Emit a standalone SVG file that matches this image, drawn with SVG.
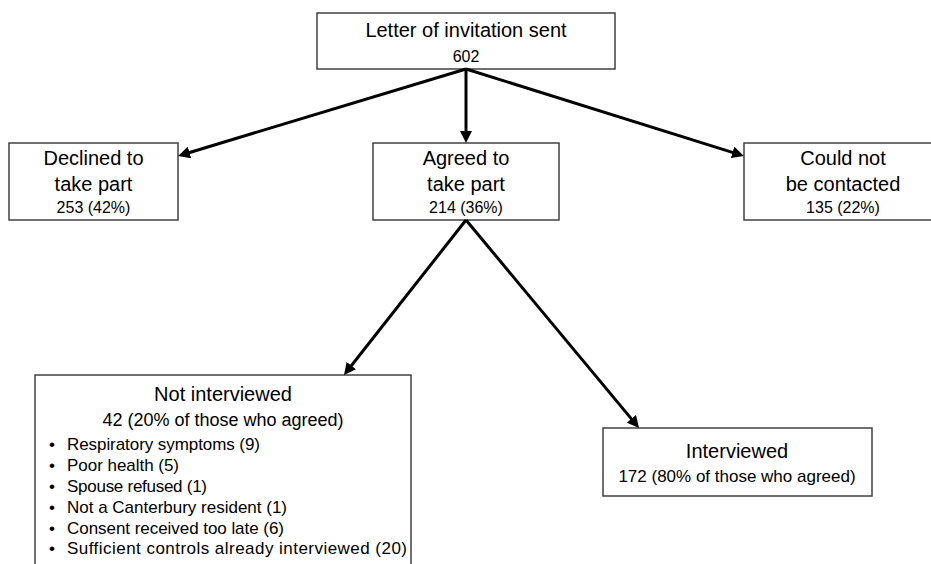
<svg xmlns="http://www.w3.org/2000/svg" width="931" height="564" viewBox="0 0 931 564">
<style>
.box{fill:#fff;stroke:#404040;stroke-width:1.5}
.t{font-family:"Liberation Sans",Arial,sans-serif;fill:#000}
.big{font-size:20px}
.mid{font-size:18px}
.mid2{font-size:17px}
.sm{font-size:16px}
.li{font-size:17px}
.c{text-anchor:middle}
.conn line{stroke:#000;stroke-width:3;fill:none;marker-end:url(#ah)}
</style>
<defs>
<marker id="ah" viewBox="0 0 10 10" refX="2" refY="5" markerWidth="4" markerHeight="4" orient="auto">
<path d="M0,0 L10,5 L0,10 z" fill="#000"/>
</marker>
</defs>
<rect width="931" height="564" fill="#fff"/>
<g id="letter">
<rect class="box" x="317" y="13" width="298" height="56"/>
<text class="t big c" x="466" y="37">Letter of invitation sent</text>
<text class="t sm c" x="466" y="62">602</text>
</g>
<g id="declined">
<rect class="box" x="9" y="143" width="169" height="77"/>
<text class="t big c" x="93.5" y="165">Declined to</text>
<text class="t big c" x="93.5" y="191">take part</text>
<text class="t sm c" x="93.5" y="213">253 (42%)</text>
</g>
<g id="agreed">
<rect class="box" x="373" y="143" width="186" height="77"/>
<text class="t big c" x="466" y="165">Agreed to</text>
<text class="t big c" x="466" y="191">take part</text>
<text class="t sm c" x="466" y="213">214 (36%)</text>
</g>
<g id="notcontacted">
<rect class="box" x="744" y="143" width="198" height="77"/>
<text class="t big c" x="843" y="165">Could not</text>
<text class="t big c" x="843" y="191">be contacted</text>
<text class="t sm c" x="843" y="213">135 (22%)</text>
</g>
<g id="notinterviewed">
<rect class="box" x="35" y="375" width="376" height="200"/>
<text class="t big c" x="223" y="401">Not interviewed</text>
<text class="t mid c" x="223" y="426">42 (20% of those who agreed)</text>
<g class="t li">
<text x="52" y="450" class="c">•</text><text x="67" y="450" textLength="193" lengthAdjust="spacing">Respiratory symptoms (9)</text>
<text x="52" y="471" class="c">•</text><text x="67" y="471" textLength="112" lengthAdjust="spacing">Poor health (5)</text>
<text x="52" y="491.5" class="c">•</text><text x="67" y="491.5" textLength="140" lengthAdjust="spacing">Spouse refused (1)</text>
<text x="52" y="512.5" class="c">•</text><text x="67" y="512.5" textLength="220" lengthAdjust="spacing">Not a Canterbury resident (1)</text>
<text x="52" y="533.5" class="c">•</text><text x="67" y="533.5" textLength="217" lengthAdjust="spacing">Consent received too late (6)</text>
<text x="52" y="554" class="c">•</text><text x="67" y="554" textLength="340" lengthAdjust="spacing">Sufficient controls already interviewed (20)</text>
</g>
</g>
<g id="interviewed">
<rect class="box" x="603" y="428" width="269" height="68"/>
<text class="t big c" x="737" y="458">Interviewed</text>
<text class="t mid2 c" x="737" y="482">172 (80% of those who agreed)</text>
</g>
<g class="conn" id="connectors">
<line x1="466" y1="69" x2="187.2" y2="153.2"/>
<line x1="466" y1="69" x2="466" y2="133.4"/>
<line x1="466" y1="69" x2="734.8" y2="153.1"/>
<line x1="466" y1="220" x2="349.9" y2="367.5"/>
<line x1="466" y1="220" x2="632.9" y2="420.6"/>
</g>
</svg>
